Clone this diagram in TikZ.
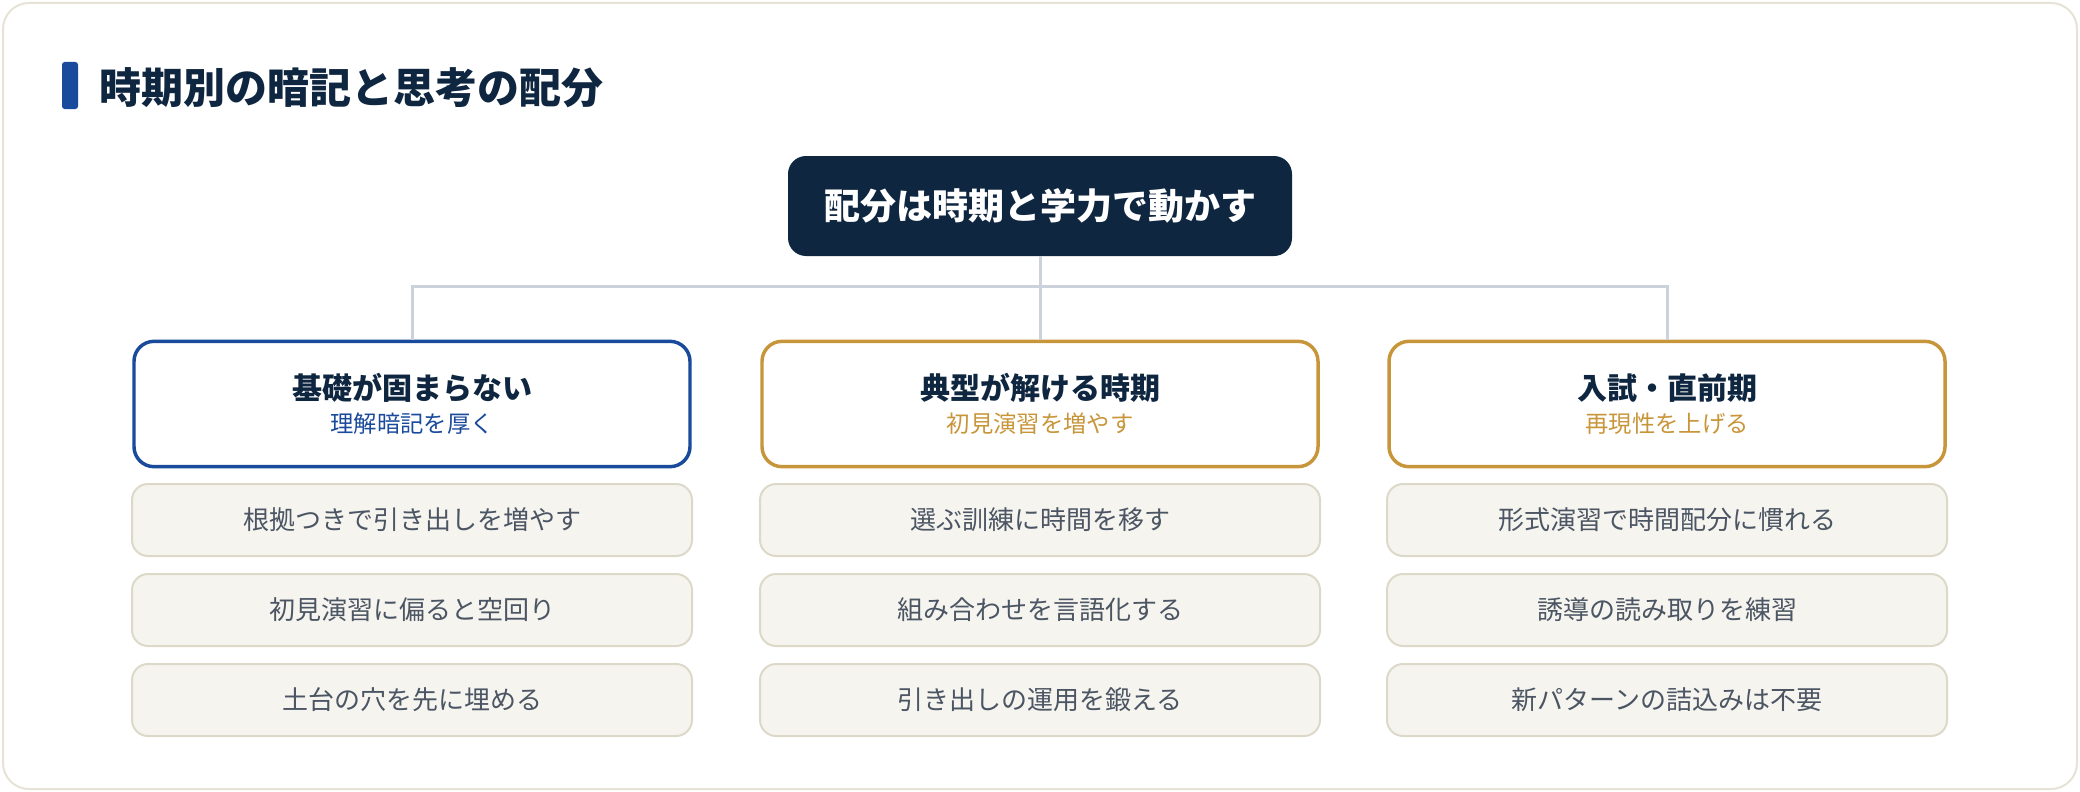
\documentclass[tikz,border=0pt]{standalone}
\usepackage{fontspec}
\setmainfont{Noto Sans CJK JP}
\usepackage{xcolor}
\definecolor{navy}{HTML}{0F2640}
\definecolor{bluebar}{HTML}{1A4A9C}
\definecolor{gold}{HTML}{C8963A}
\definecolor{wire}{HTML}{CBD2DC}
\definecolor{frame}{HTML}{E6E3D6}
\definecolor{cardfill}{HTML}{F5F4EF}
\definecolor{carddraw}{HTML}{DDD9C9}
\definecolor{cardtext}{HTML}{4B5563}
\begin{document}
\begin{tikzpicture}[x=0.75pt,y=-0.75pt,
    phase/.style={draw,line width=2.6pt,fill=white,rounded corners=15pt,minimum width=417pt,minimum height=94pt,inner sep=0pt,align=center},
    card/.style={draw=carddraw,line width=1.5pt,fill=cardfill,rounded corners=12pt,minimum width=420pt,minimum height=54pt,inner sep=0pt,text=cardtext,font=\fontsize{19.5}{24}\selectfont},
    link/.style={wire,line width=2.25pt}]
            \useasboundingbox (0,0) rectangle (2080,792);
            \draw[frame,line width=1.5pt,rounded corners=19.5pt] (3,3) rectangle (2077,789);

            \fill[bluebar,rounded corners=2pt] (62,62) rectangle (78,109);
            \node[anchor=west,inner sep=0pt,text=navy] (T) at (99,88) { \fontsize{31.5}{38}\selectfont\bfseries 時期別の暗記と思考の配分 };

            \node[fill=navy,rounded corners=13.5pt,minimum width=378pt,minimum height=75pt,text=white] (M) at (1040,206) { \fontsize{27}{32}\selectfont\bfseries 配分は時期と学力で動かす };

            \node[phase,draw=bluebar] (P1) at (412,404) { {\fontsize{22.5}{28}\selectfont\bfseries\color{navy} 基礎が固まらない}\\[7pt] {\fontsize{17.5}{22}\selectfont\color{bluebar} 理解暗記を厚く} };
            \node[phase,draw=gold] (P2) at (1040,404) { {\fontsize{22.5}{28}\selectfont\bfseries\color{navy} 典型が解ける時期}\\[7pt] {\fontsize{17.5}{22}\selectfont\color{gold} 初見演習を増やす} };
            \node[phase,draw=gold] (P3) at (1667,404) { {\fontsize{22.5}{28}\selectfont\bfseries\color{navy} 入試・直前期}\\[7pt] {\fontsize{17.5}{22}\selectfont\color{gold} 再現性を上げる} };

            \coordinate (H) at (1040,286);
            \draw[link] (M) to (P2);
            \draw[link] (H) -| (P1);
            \draw[link] (H) -| (P3);

            \node[card] (A1) at (412,520) { 根拠つきで引き出しを増やす };
            \node[card] (A2) at (412,610) { 初見演習に偏ると空回り };
            \node[card] (A3) at (412,700) { 土台の穴を先に埋める };

            \node[card] (B1) at (1040,520) { 選ぶ訓練に時間を移す };
            \node[card] (B2) at (1040,610) { 組み合わせを言語化する };
            \node[card] (B3) at (1040,700) { 引き出しの運用を鍛える };

            \node[card] (C1) at (1667,520) { 形式演習で時間配分に慣れる };
            \node[card] (C2) at (1667,610) { 誘導の読み取りを練習 };
            \node[card] (C3) at (1667,700) { 新パターンの詰込みは不要 };
        \end{tikzpicture}
\end{document}
